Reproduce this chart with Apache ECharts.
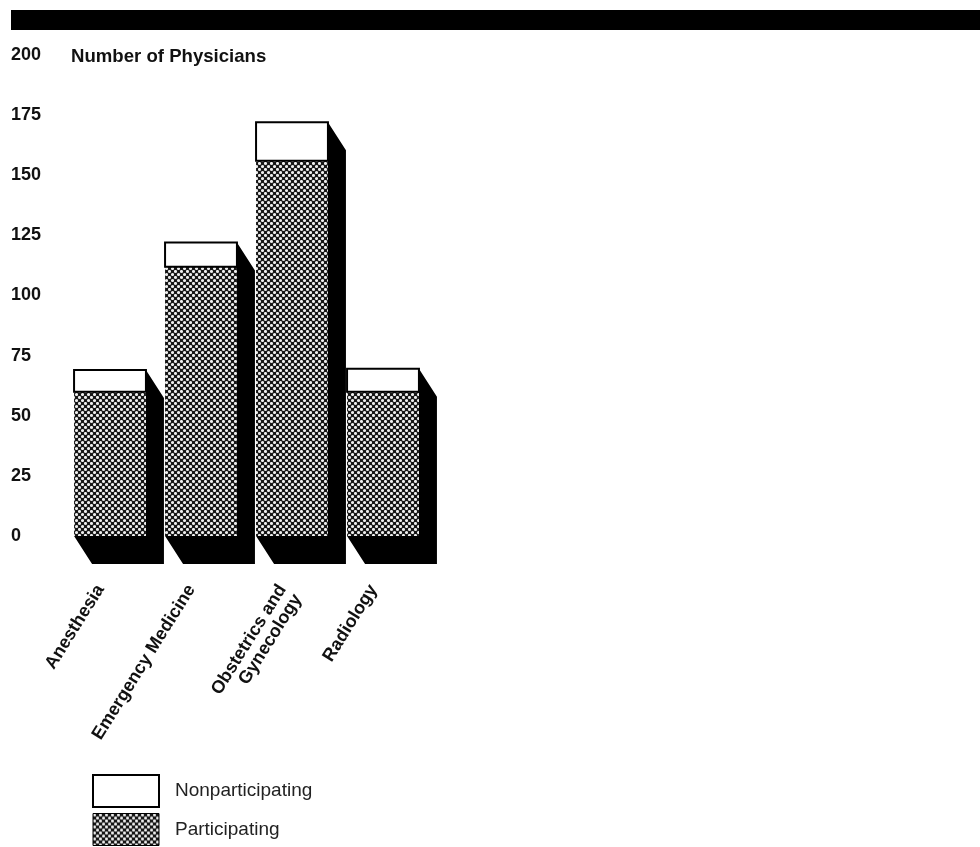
<!DOCTYPE html>
<html>
<head>
<meta charset="utf-8">
<style>html,body{margin:0;padding:0;background:#fff}#c{width:980px;height:847px}</style>
<script src="https://cdn.jsdelivr.net/npm/echarts@6/dist/echarts.min.js"></script>
</head>
<body>
<div id="c"></div>
<script>
const categories = ['Anesthesia', 'Emergency Medicine', 'Obstetrics and\nGynecology', 'Radiology'];
const participating = [60, 112, 156, 60];
const nonparticipating = [9, 10, 16, 9.5];
const yTicks = { min: 0, max: 200, interval: 25 };
const seriesNames = ['Nonparticipating', 'Participating'];
const axisTitle = 'Number of Physicians';

const FONT = '"Liberation Sans", Arial, sans-serif';

function makePattern() {
  const c = document.createElement('canvas');
  c.width = 6; c.height = 6;
  const g = c.getContext('2d');
  g.fillStyle = '#161616'; g.fillRect(0, 0, 6, 6);
  g.fillStyle = '#eeeeee';
  [[1.5, 1.5], [4.5, 4.5]].forEach(([x, y]) => {
    g.beginPath(); g.arc(x, y, 1.55, 0, Math.PI * 2); g.fill();
  });
  return { image: c, repeat: 'repeat' };
}
const pattern = makePattern();
const BAR_RATIO = 0.79, DX = 18, DY = 28;

function band(api) { return api.size([1, 0])[0] * BAR_RATIO; }

function renderDepth(params, api) {
  const i = api.value(0), total = api.value(1) + api.value(2);
  const w = band(api), base = api.coord([i, 0]), top = api.coord([i, total]);
  const l = base[0] - w / 2, r = base[0] + w / 2;
  return { type: 'polygon', shape: { points: [
    [r, top[1]], [r + DX, top[1] + DY], [r + DX, base[1] + DY],
    [l + DX, base[1] + DY], [l, base[1]], [r, base[1]]
  ] }, style: { fill: '#000' } };
}
function frontRect(api, a, b, fill, strokeWidth) {
  const i = api.value(0), w = band(api);
  const p0 = api.coord([i, a]), p1 = api.coord([i, b]);
  return { type: 'rect', shape: { x: p0[0] - w / 2, y: p1[1], width: w, height: p0[1] - p1[1] },
    style: { fill: fill, stroke: strokeWidth ? '#000' : null, lineWidth: strokeWidth } };
}
const rows = categories.map((_, i) => [i, participating[i], nonparticipating[i]]);
const enc = { x: 0, y: [1, 2] };

const chart = echarts.init(document.getElementById('c'), null, { width: 980, height: 847 });
chart.setOption({
  animation: false,
  backgroundColor: '#fff',
  grid: { left: 64.5, top: 55, width: 364, height: 481 },
  title: { text: axisTitle, left: 71, top: 47, padding: 0,
    textStyle: { fontFamily: FONT, fontSize: 18.6, fontWeight: 'bold', color: '#111' } },
  graphic: [{ type: 'rect', left: 11, top: 10, shape: { width: 969, height: 20 }, style: { fill: '#000' } }],
  legend: {
    orient: 'vertical', left: 92, top: 774, itemWidth: 66, itemHeight: 32, itemGap: 5,
    padding: 0, icon: 'rect', selectedMode: false,
    textStyle: { fontFamily: FONT, fontSize: 19, color: '#222', padding: [14, 0, 0, 11] },
    data: [
      { name: seriesNames[0], itemStyle: { color: '#fff', borderColor: '#000', borderWidth: 2 } },
      { name: seriesNames[1], itemStyle: { color: pattern, borderColor: '#000', borderWidth: 1 } }
    ]
  },
  xAxis: {
    type: 'category', data: categories,
    axisLine: { show: false }, axisTick: { show: false }, splitLine: { show: false },
    axisLabel: { interval: 0, rotate: 58, margin: 35, align: 'right', verticalAlign: 'middle', lineHeight: 18,
      padding: [0, 18, 0, 0], fontFamily: FONT, fontSize: 18, color: '#111', fontWeight: 'bold',
      formatter: (v) => (v.includes('\n') ? '\n' + v : v) }
  },
  yAxis: {
    type: 'value', min: yTicks.min, max: yTicks.max, interval: yTicks.interval,
    axisLine: { show: false }, axisTick: { show: false }, splitLine: { show: false },
    axisLabel: { align: 'left', margin: 53.5, fontFamily: FONT, fontSize: 18, fontWeight: 'bold', color: '#111' }
  },
  series: [
    { type: 'custom', name: 'depth', data: rows, encode: enc, renderItem: renderDepth, silent: true, z: 1 },
    { type: 'custom', name: seriesNames[1], data: rows, encode: enc, z: 2, itemStyle: { color: pattern },
      renderItem: (p, api) => frontRect(api, 0, api.value(1), pattern, 0) },
    { type: 'custom', name: seriesNames[0], data: rows, encode: enc, z: 3, itemStyle: { color: '#fff' },
      renderItem: (p, api) => frontRect(api, api.value(1), api.value(1) + api.value(2), '#fff', 2) }
  ]
});
</script>
</body>
</html>
